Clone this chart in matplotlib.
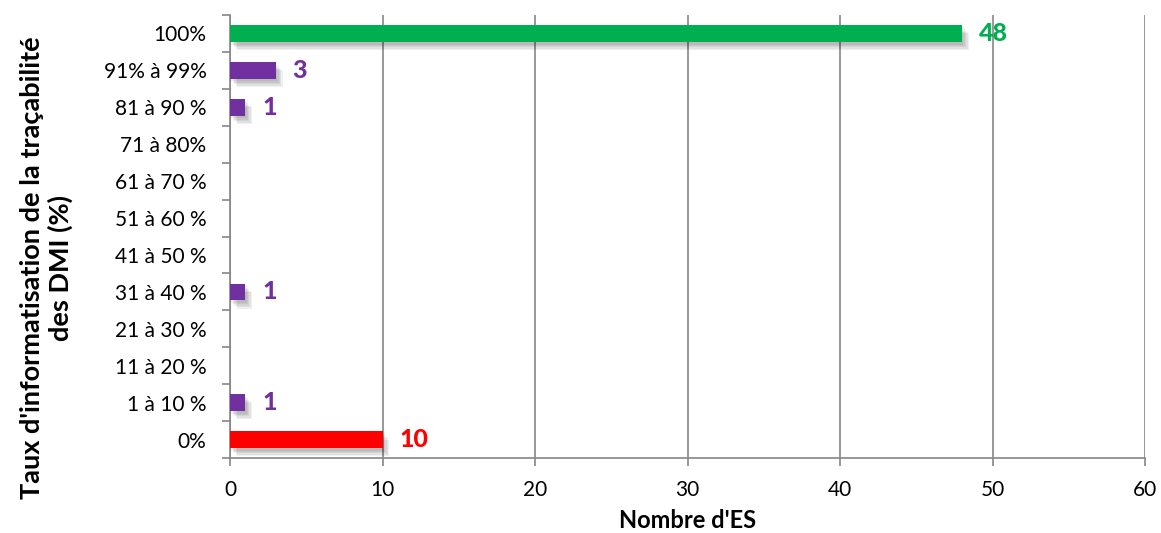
import matplotlib.pyplot as plt
import matplotlib.patheffects as pe

# Nombre d'établissements par taux d'informatisation
categories = ["0%", "1 à 10 %", "11 à 20 %", "21 à 30 %", "31 à 40 %", "41 à 50 %",
              "51 à 60 %", "61 à 70 %", "71 à 80%", "81 à 90 %", "91% à 99%", "100%"]
counts = [10, 1, 0, 0, 1, 0, 0, 0, 0, 1, 3, 48]
colors = ["#FF0000"] + ["#7030A0"] * 10 + ["#00B050"]

plt.rcParams['font.family'] = ['Lato', 'DejaVu Sans']

fig = plt.figure(figsize=(11.61, 5.33), dpi=100)
ax = fig.add_axes([230 / 1161, 1 - 458 / 533, 915 / 1161, 443 / 533])

pos = range(len(categories))
# ombre portée douce sous les barres
shadow = [pe.SimplePatchShadow(offset=(d, -d - 1), shadow_rgbFace='black', alpha=0.06)
          for d in (1, 2, 3, 4, 5)] + [pe.Normal()]
bars = ax.barh(pos, counts, height=0.45, color=colors, zorder=3)
for b, n in zip(bars, counts):
    if n > 0:
        b.set_path_effects(shadow)
        ax.text(n + 1.1, b.get_y() + b.get_height() / 2, str(n), color=b.get_facecolor(),
                fontsize=18, fontweight='black', va='center', ha='left', zorder=4)

ax.set_xlim(0, 60)
ax.set_ylim(-0.5, len(categories) - 0.5)
ax.set_xticks(range(0, 61, 10))
ax.set_yticks(list(pos))
ax.set_yticklabels(categories)
ax.set_yticks([i - 0.5 for i in range(len(categories) + 1)], minor=True)
ax.tick_params(axis='y', which='major', length=0, pad=17, labelsize=15)
ax.tick_params(axis='y', which='minor', length=6, color='#868686', width=1.2)
ax.tick_params(axis='x', length=6, color='#868686', width=1.2, labelsize=15, pad=10)
ax.grid(axis='x', color='#868686', linewidth=1.2, zorder=0)
for side in ('top', 'right'):
    ax.spines[side].set_visible(False)
for side in ('left', 'bottom'):
    ax.spines[side].set_color('#868686')
    ax.spines[side].set_linewidth(1.2)

ax.set_xlabel("Nombre d'ES", fontsize=17, fontweight='bold', labelpad=6)
ax.set_ylabel("Taux d'informatisation de la traçabilité\ndes DMI (%)", fontsize=19.5,
              fontweight='bold', linespacing=1.15)
ax.yaxis.set_label_coords(-0.172, 0.43)

fig.savefig("out.png", dpi=100)
